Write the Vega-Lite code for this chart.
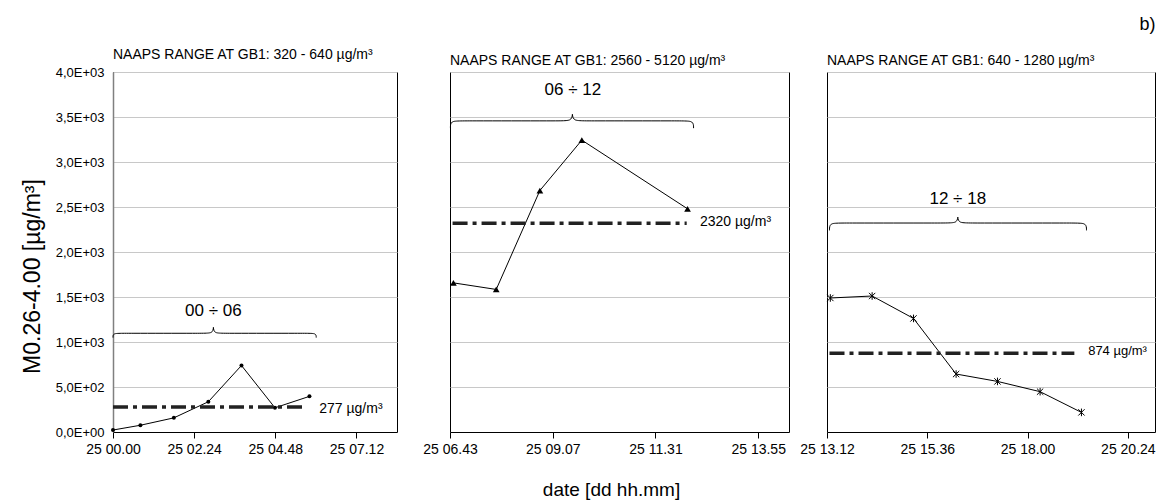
{
  "$schema": "https://vega.github.io/schema/vega-lite/v6.json",
  "padding": {"left": 20, "top": 15, "right": 1, "bottom": 0},
  "background": "white",
  "title": {"text": "b)", "anchor": "end", "frame": "bounds", "fontSize": 18, "fontWeight": "normal", "font": "Liberation Sans", "color": "#000", "offset": 14, "dx": 0},
  "config": {
    "view": {"stroke": "#000", "strokeWidth": 1},
    "axis": {"labelFont": "Liberation Sans", "labelFontSize": 13, "labelColor": "#000", "gridColor": "#c8c8c8", "domainColor": "#000", "tickColor": "#000", "titleFont": "Liberation Sans", "titleFontWeight": "normal", "titleColor": "#000"},
    "title": {"font": "Liberation Sans", "fontWeight": "normal", "color": "#000", "fontSize": 14, "anchor": "start", "frame": "group", "offset": 4},
    "text": {"font": "Liberation Sans", "color": "#000"}
  },
  "datasets": {
    "series": [
      {"panel": "A", "hour": 0.0, "value": 22},
      {"panel": "A", "hour": 0.81, "value": 75},
      {"panel": "A", "hour": 1.8, "value": 157},
      {"panel": "A", "hour": 2.82, "value": 336},
      {"panel": "A", "hour": 3.8, "value": 739},
      {"panel": "A", "hour": 4.79, "value": 269},
      {"panel": "A", "hour": 5.81, "value": 396},
      {"panel": "B", "hour": 6.8, "value": 1657},
      {"panel": "B", "hour": 7.8, "value": 1584},
      {"panel": "B", "hour": 8.82, "value": 2683},
      {"panel": "B", "hour": 9.8, "value": 3243},
      {"panel": "B", "hour": 12.27, "value": 2480},
      {"panel": "C", "hour": 13.28, "value": 1489},
      {"panel": "C", "hour": 14.28, "value": 1511},
      {"panel": "C", "hour": 15.27, "value": 1262},
      {"panel": "C", "hour": 16.29, "value": 644},
      {"panel": "C", "hour": 17.28, "value": 562},
      {"panel": "C", "hour": 18.3, "value": 448},
      {"panel": "C", "hour": 19.29, "value": 218}
    ],
    "refs": [
      {"panel": "A", "hour": 0.0, "hour2": 5.63, "value": 277, "lhour": 6.1, "label": "277 µg/m³"},
      {"panel": "B", "hour": 6.78, "hour2": 12.25, "value": 2320, "lhour": 12.56, "label": "2320 µg/m³"},
      {"panel": "C", "hour": 13.26, "hour2": 19.12, "value": 874, "lhour": 19.45, "label": "874 µg/m³"}
    ],
    "braces": [
      {"panel": "A", "order": 1, "hour": 0.0, "value": 1049},
      {"panel": "A", "order": 2, "hour": 0.0, "value": 1097},
      {"panel": "A", "order": 3, "hour": 0.25, "value": 1097},
      {"panel": "A", "order": 4, "hour": 2.72, "value": 1097},
      {"panel": "A", "order": 5, "hour": 2.97, "value": 1097},
      {"panel": "A", "order": 6, "hour": 2.97, "value": 1197},
      {"panel": "A", "order": 7, "hour": 2.97, "value": 1097},
      {"panel": "A", "order": 8, "hour": 3.22, "value": 1097},
      {"panel": "A", "order": 9, "hour": 5.76, "value": 1097},
      {"panel": "A", "order": 10, "hour": 6.01, "value": 1097},
      {"panel": "A", "order": 11, "hour": 6.01, "value": 1049},
      {"panel": "B", "order": 1, "hour": 6.73, "value": 3376},
      {"panel": "B", "order": 2, "hour": 6.73, "value": 3457},
      {"panel": "B", "order": 3, "hour": 6.98, "value": 3457},
      {"panel": "B", "order": 4, "hour": 9.33, "value": 3457},
      {"panel": "B", "order": 5, "hour": 9.58, "value": 3457},
      {"panel": "B", "order": 6, "hour": 9.58, "value": 3568},
      {"panel": "B", "order": 7, "hour": 9.58, "value": 3457},
      {"panel": "B", "order": 8, "hour": 9.83, "value": 3457},
      {"panel": "B", "order": 9, "hour": 12.16, "value": 3457},
      {"panel": "B", "order": 10, "hour": 12.41, "value": 3457},
      {"panel": "B", "order": 11, "hour": 12.41, "value": 3376},
      {"panel": "C", "order": 1, "hour": 13.26, "value": 2240},
      {"panel": "C", "order": 2, "hour": 13.26, "value": 2322},
      {"panel": "C", "order": 3, "hour": 13.51, "value": 2322},
      {"panel": "C", "order": 4, "hour": 16.08, "value": 2322},
      {"panel": "C", "order": 5, "hour": 16.33, "value": 2322},
      {"panel": "C", "order": 6, "hour": 16.33, "value": 2422},
      {"panel": "C", "order": 7, "hour": 16.33, "value": 2322},
      {"panel": "C", "order": 8, "hour": 16.58, "value": 2322},
      {"panel": "C", "order": 9, "hour": 19.16, "value": 2322},
      {"panel": "C", "order": 10, "hour": 19.41, "value": 2322},
      {"panel": "C", "order": 11, "hour": 19.41, "value": 2240}
    ],
    "braceLabels": [
      {"panel": "A", "hour": 2.97, "value": 1347, "label": "00 ÷ 06"},
      {"panel": "B", "hour": 9.59, "value": 3800, "label": "06 ÷ 12"},
      {"panel": "C", "hour": 16.33, "value": 2592, "label": "12 ÷ 18"}
    ]
  },
  "spacing": 24,
  "hconcat": [
    {
      "width": 284,
      "height": 360,
      "title": {"text": "NAAPS RANGE AT GB1: 320 - 640  µg/m³"},
      "encoding": {
        "x": {"field": "hour", "type": "quantitative", "scale": {"domain": [0, 8.4], "nice": false, "zero": false},
          "axis": {"values": [0, 2.4, 4.8, 7.2], "grid": false, "tickSize": 6, "labelPadding": 4, "labelFontSize": 14, "labelFlush": false, "labelOverlap": false, "title": null,
            "labelExpr": "'25 ' + format(floor(datum.value + 0.000001), '02d') + '.' + format(round((datum.value - floor(datum.value + 0.000001)) * 60), '02d')"}},
        "y": {"field": "value", "type": "quantitative", "scale": {"domain": [0, 4000], "nice": false},
          "axis": {"values": [0, 500, 1000, 1500, 2000, 2500, 3000, 3500, 4000], "ticks": false, "labelPadding": 9, "domainColor": "#808080", "domainWidth": 1.5,
            "title": "M0.26-4.00   [µg/m³]", "titleFontSize": 23, "titlePadding": 11, "titleY": 204,
            "labelExpr": "datum.value == 0 ? '0,0E+00' : (datum.value < 1000 ? replace(format(datum.value / 100, '.1f'), '.', ',') + 'E+02' : replace(format(datum.value / 1000, '.1f'), '.', ',') + 'E+03')"}}
      },
      "layer": [
        {"data": {"name": "series"}, "transform": [{"filter": "datum.panel == 'A'"}], "mark": {"type": "line", "color": "#000", "strokeWidth": 1}},
        {"data": {"name": "series"}, "transform": [{"filter": "datum.panel == 'A'"}], "mark": {"type": "point", "shape": "circle", "filled": true, "color": "#000", "size": 16, "opacity": 1}},
        {"data": {"name": "refs"}, "transform": [{"filter": "datum.panel == 'A'"}], "mark": {"type": "rule", "color": "#222", "strokeWidth": 3.5, "strokeDash": [15, 5, 4, 5]}, "encoding": {"x2": {"field": "hour2"}}},
        {"data": {"name": "refs"}, "transform": [{"filter": "datum.panel == 'A'"}], "mark": {"type": "text", "align": "left", "baseline": "middle", "fontSize": 14, "dy": 2}, "encoding": {"x": {"field": "lhour", "type": "quantitative"}, "text": {"field": "label"}}},
        {"data": {"name": "braces"}, "transform": [{"filter": "datum.panel == 'A'"}], "mark": {"type": "line", "color": "#000", "strokeWidth": 1, "interpolate": "basis"}, "encoding": {"order": {"field": "order", "type": "quantitative"}}},
        {"data": {"name": "braceLabels"}, "transform": [{"filter": "datum.panel == 'A'"}], "mark": {"type": "text", "align": "center", "baseline": "middle", "fontSize": 17}, "encoding": {"text": {"field": "label"}}}
      ]
    },
    {
      "spacing": 9,
      "hconcat": [
        {
          "width": 339,
          "height": 360,
          "title": {"text": "NAAPS RANGE AT GB1: 2560 - 5120  µg/m³"},
          "encoding": {
            "x": {"field": "hour", "type": "quantitative", "scale": {"domain": [6.72, 14.64], "nice": false, "zero": false},
              "axis": {"values": [6.72, 9.12, 11.52, 13.92], "grid": false, "tickSize": 6, "labelPadding": 4, "labelFontSize": 14, "labelFlush": false, "labelOverlap": false,
                "title": "date  [dd hh.mm]", "titleFontSize": 19, "titlePadding": 24, "titleX": 161,
                "labelExpr": "'25 ' + format(floor(datum.value + 0.000001), '02d') + '.' + format(round((datum.value - floor(datum.value + 0.000001)) * 60), '02d')"}},
            "y": {"field": "value", "type": "quantitative", "scale": {"domain": [0, 4000], "nice": false},
              "axis": {"values": [0, 500, 1000, 1500, 2000, 2500, 3000, 3500, 4000], "labels": false, "ticks": false, "domain": false, "title": null}}
          },
          "layer": [
            {"data": {"name": "series"}, "transform": [{"filter": "datum.panel == 'B'"}], "mark": {"type": "line", "color": "#000", "strokeWidth": 1}},
            {"data": {"name": "series"}, "transform": [{"filter": "datum.panel == 'B'"}], "mark": {"type": "point", "shape": "triangle-up", "filled": true, "color": "#000", "size": 45, "opacity": 1}},
            {"data": {"name": "refs"}, "transform": [{"filter": "datum.panel == 'B'"}], "mark": {"type": "rule", "color": "#222", "strokeWidth": 3.5, "strokeDash": [15, 5, 4, 5]}, "encoding": {"x2": {"field": "hour2"}}},
            {"data": {"name": "refs"}, "transform": [{"filter": "datum.panel == 'B'"}], "mark": {"type": "text", "align": "left", "baseline": "middle", "fontSize": 14, "dy": -1}, "encoding": {"x": {"field": "lhour", "type": "quantitative"}, "text": {"field": "label"}}},
            {"data": {"name": "braces"}, "transform": [{"filter": "datum.panel == 'B'"}], "mark": {"type": "line", "color": "#000", "strokeWidth": 1, "interpolate": "basis"}, "encoding": {"order": {"field": "order", "type": "quantitative"}}},
            {"data": {"name": "braceLabels"}, "transform": [{"filter": "datum.panel == 'B'"}], "mark": {"type": "text", "align": "center", "baseline": "middle", "fontSize": 17}, "encoding": {"text": {"field": "label"}}}
          ]
        },
        {
          "width": 328,
          "height": 360,
          "title": {"text": "NAAPS RANGE AT GB1: 640 - 1280  µg/m³"},
          "encoding": {
            "x": {"field": "hour", "type": "quantitative", "scale": {"domain": [13.2, 21.05], "nice": false, "zero": false},
              "axis": {"values": [13.2, 15.6, 18.0, 20.4], "grid": false, "tickSize": 6, "labelPadding": 4, "labelFontSize": 14, "labelFlush": false, "labelOverlap": false, "title": null,
                "labelExpr": "'25 ' + format(floor(datum.value + 0.000001), '02d') + '.' + format(round((datum.value - floor(datum.value + 0.000001)) * 60), '02d')"}},
            "y": {"field": "value", "type": "quantitative", "scale": {"domain": [0, 4000], "nice": false},
              "axis": {"values": [0, 500, 1000, 1500, 2000, 2500, 3000, 3500, 4000], "labels": false, "ticks": false, "domain": false, "title": null}}
          },
          "layer": [
            {"data": {"name": "series"}, "transform": [{"filter": "datum.panel == 'C'"}], "mark": {"type": "line", "color": "#000", "strokeWidth": 1}},
            {"data": {"name": "series"}, "transform": [{"filter": "datum.panel == 'C'"}], "mark": {"type": "point", "shape": "M-1,-1L1,1M-1,1L1,-1M0,-1.2L0,1.2", "filled": false, "color": "#000", "strokeWidth": 1, "size": 40, "opacity": 1}},
            {"data": {"name": "refs"}, "transform": [{"filter": "datum.panel == 'C'"}], "mark": {"type": "rule", "color": "#222", "strokeWidth": 3.5, "strokeDash": [15, 5, 4, 5]}, "encoding": {"x2": {"field": "hour2"}}},
            {"data": {"name": "refs"}, "transform": [{"filter": "datum.panel == 'C'"}], "mark": {"type": "text", "align": "left", "baseline": "middle", "fontSize": 13, "dy": -2}, "encoding": {"x": {"field": "lhour", "type": "quantitative"}, "text": {"field": "label"}}},
            {"data": {"name": "braces"}, "transform": [{"filter": "datum.panel == 'C'"}], "mark": {"type": "line", "color": "#000", "strokeWidth": 1, "interpolate": "basis"}, "encoding": {"order": {"field": "order", "type": "quantitative"}}},
            {"data": {"name": "braceLabels"}, "transform": [{"filter": "datum.panel == 'C'"}], "mark": {"type": "text", "align": "center", "baseline": "middle", "fontSize": 17}, "encoding": {"text": {"field": "label"}}}
          ]
        }
      ]
    }
  ]
}
